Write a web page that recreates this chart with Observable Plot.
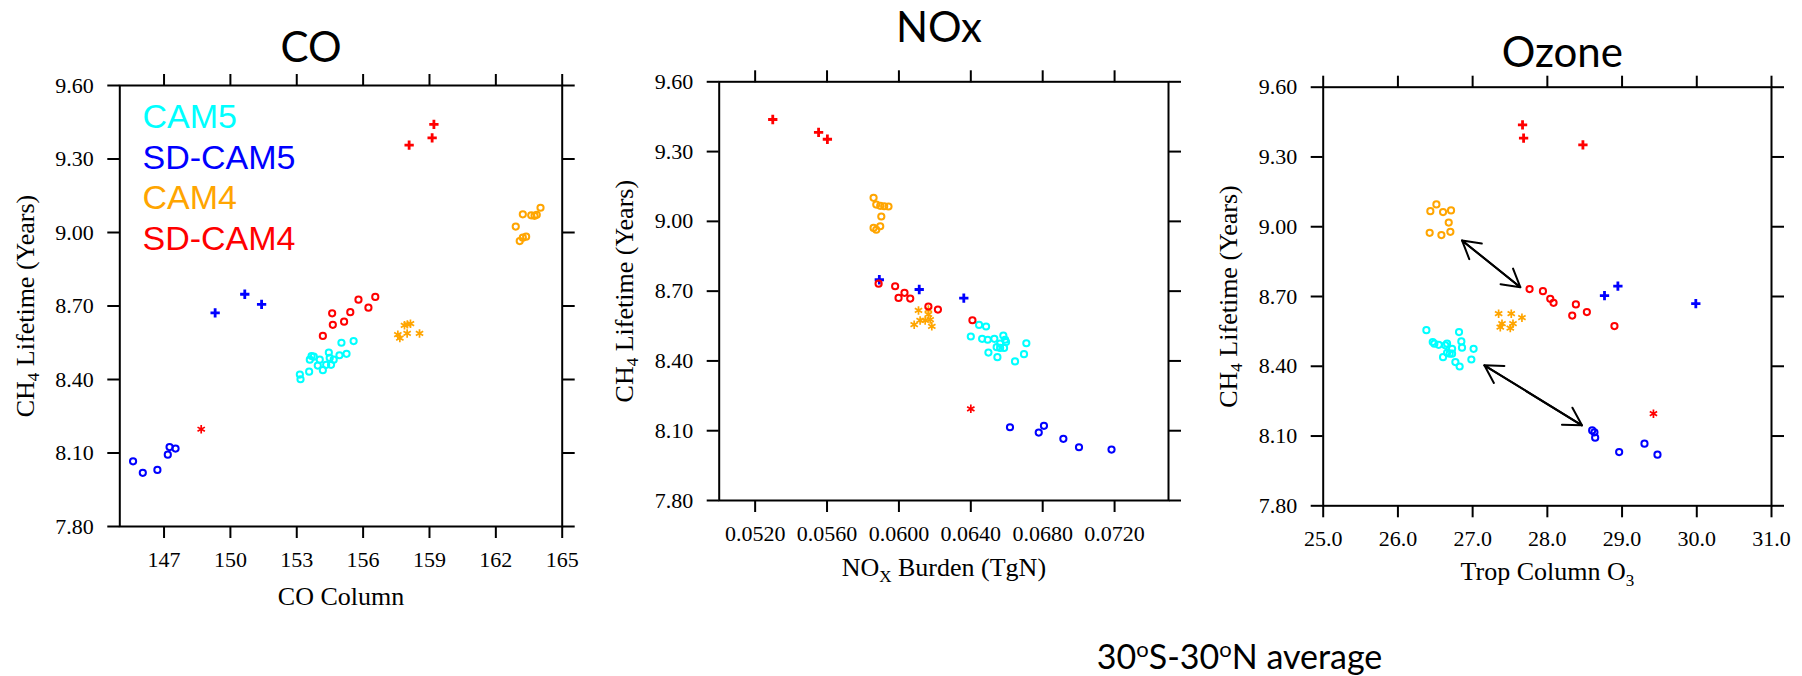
<!DOCTYPE html>
<html>
<head>
<meta charset="utf-8">
<script src="https://cdn.jsdelivr.net/npm/d3@7"></script>
<script src="https://cdn.jsdelivr.net/npm/@observablehq/plot@0.6"></script>
<style>
html, body { margin: 0; padding: 0; background: #fff; }
#root { position: relative; width: 1802px; height: 676px; overflow: hidden; background: #fff; }
.panel { position: absolute; top: 0; }
</style>
</head>
<body>
<div id="root"></div>
<script>
// ---------------- DATA ----------------
const yTicks = [7.80, 8.10, 8.40, 8.70, 9.00, 9.30, 9.60];
const coTicks = [147, 150, 153, 156, 159, 162, 165];
const noxTicks = [0.0520, 0.0560, 0.0600, 0.0640, 0.0680, 0.0720];
const o3Ticks = [25, 26, 27, 28, 29, 30, 31];
const titles = ["CO", "NOx", "Ozone"];
const xLabels = ["CO Column", "NOX Burden (TgN)", "Trop Column O3"];
const yLabel = "CH4 Lifetime (Years)";
const legendNames = ["CAM5", "SD-CAM5", "CAM4", "SD-CAM4"];
const caption = "30oS-30oN average";

// CO panel  [CO column, CH4 lifetime]
const co_CAM5_circle = [[153.14,8.420],[153.17,8.401],[153.56,8.432],[153.59,8.481],[153.67,8.496],[153.77,8.493],[153.95,8.457],[154.04,8.481],[154.18,8.438],[154.33,8.460],[154.45,8.510],[154.49,8.488],[154.55,8.460],[154.67,8.481],[154.93,8.499],[155.02,8.550],[155.25,8.505],[155.57,8.557]];
const co_SDCAM5_circle = [[145.60,8.066],[146.04,8.019],[146.70,8.031],[147.17,8.093],[147.25,8.124],[147.52,8.118]];
const co_SDCAM5_plus = [[149.31,8.672],[150.65,8.748],[151.41,8.707]];
const co_CAM4_circle = [[162.90,9.024],[163.22,9.074],[164.02,9.101],[163.60,9.070],[163.75,9.068],[163.85,9.072],[163.08,8.965],[163.22,8.979],[163.37,8.983]];
const co_CAM4_star = [[157.57,8.583],[157.66,8.569],[157.87,8.621],[158.14,8.628],[157.99,8.588],[158.55,8.588],[158.00,8.625]];
const co_SDCAM4_circle = [[154.18,8.578],[154.63,8.623],[154.60,8.670],[155.14,8.636],[155.42,8.675],[155.79,8.726],[156.24,8.693],[156.55,8.737]];
const co_SDCAM4_plus = [[159.20,9.441],[159.12,9.386],[158.08,9.357]];
const co_SDCAM4_star = [[148.68,8.197]];

// NOx panel  [NOx burden, CH4 lifetime]
const nox_CAM5_circle = [[0.06400,8.505],[0.06446,8.555],[0.06485,8.548],[0.06463,8.495],[0.06494,8.491],[0.06531,8.495],[0.06498,8.436],[0.06548,8.416],[0.06544,8.459],[0.06563,8.474],[0.06581,8.509],[0.06591,8.491],[0.06596,8.481],[0.06585,8.456],[0.06646,8.398],[0.06696,8.429],[0.06709,8.476],[0.06563,8.456]];
const nox_SDCAM5_circle = [[0.06618,8.115],[0.06778,8.092],[0.06807,8.121],[0.06915,8.065],[0.07002,8.029],[0.07183,8.019]];
const nox_SDCAM5_plus = [[0.05891,8.749],[0.06113,8.707],[0.06361,8.670]];
const nox_CAM4_circle = [[0.05859,9.101],[0.05874,9.072],[0.05896,9.067],[0.05918,9.065],[0.05942,9.064],[0.05902,9.021],[0.05896,8.979],[0.05859,8.972],[0.05874,8.964]];
const nox_CAM4_star = [[0.06109,8.617],[0.06164,8.621],[0.06085,8.556],[0.06118,8.574],[0.06146,8.574],[0.06174,8.578],[0.06183,8.549],[0.06164,8.600]];
const nox_SDCAM4_circle = [[0.05887,8.732],[0.05979,8.721],[0.05998,8.671],[0.06031,8.693],[0.06063,8.668],[0.06164,8.634],[0.06217,8.621],[0.06409,8.575]];
const nox_SDCAM4_plus = [[0.05298,9.438],[0.05553,9.383],[0.05602,9.353]];
const nox_SDCAM4_star = [[0.06400,8.194]];

// Ozone panel  [Trop column O3, CH4 lifetime]
const o3_CAM5_circle = [[26.381,8.555],[26.466,8.504],[26.488,8.497],[26.546,8.492],[26.635,8.490],[26.658,8.497],[26.604,8.439],[26.693,8.454],[26.725,8.475],[26.658,8.458],[26.769,8.418],[26.826,8.399],[26.818,8.547],[26.849,8.507],[26.858,8.480],[27.013,8.475],[26.983,8.429],[26.725,8.454]];
const o3_SDCAM5_circle = [[28.60,8.124],[28.63,8.116],[28.64,8.093],[28.961,8.031],[29.300,8.067],[29.474,8.020]];
const o3_SDCAM5_plus = [[28.765,8.704],[28.944,8.745],[29.987,8.669]];
const o3_CAM4_circle = [[26.434,9.067],[26.515,9.096],[26.604,9.063],[26.711,9.070],[26.680,9.018],[26.425,8.974],[26.582,8.964],[26.702,8.978]];
const o3_CAM4_star = [[27.348,8.626],[27.517,8.626],[27.660,8.609],[27.393,8.583],[27.370,8.568],[27.540,8.583],[27.504,8.564]];
const o3_SDCAM4_circle = [[27.762,8.732],[27.941,8.723],[28.039,8.690],[28.083,8.673],[28.382,8.666],[28.333,8.618],[28.529,8.633],[28.898,8.573]];
const o3_SDCAM4_plus = [[27.668,9.438],[27.682,9.381],[28.476,9.352]];
const o3_SDCAM4_star = [[29.420,8.196]];
// double-headed arrows [x1, y1, x2, y2]
const o3_arrows = [[26.858,8.941,27.638,8.740],[27.157,8.404,28.463,8.146]];

// ---------------- STYLE ----------------
const colorOf = {"CAM5": "#00ffff", "SD-CAM5": "#0000ff", "CAM4": "#ffa500", "SD-CAM4": "#ff0000"};
const SERIF = "'Liberation Serif', 'Times New Roman', serif";
const SANS = "'Liberation Sans', Arial, sans-serif";
const TITLE = "Lato, 'Open Sans', sans-serif";

function dotMarks(list) {
  return list.map(([data, name, shape]) => {
    const base = {x: d => d[0], y: d => d[1], stroke: colorOf[name]};
    if (shape === "circle") return Plot.dot(data, {...base, r: 3.1, strokeWidth: 2, fill: "none"});
    if (shape === "plus") return Plot.dot(data, {...base, symbol: "plus", r: 3.1, strokeWidth: 2.8});
    return Plot.dot(data, {...base, symbol: "asterisk", r: 4, strokeWidth: 1.7});
  });
}

function frameMarks(xTicks, xFmt) {
  return [
    Plot.axisX({anchor: "bottom", ticks: xTicks, tickSize: 12, tickPadding: 13, tickFormat: xFmt, fontSize: 22, fontFamily: SERIF, strokeWidth: 2, label: null}),
    Plot.axisX({anchor: "top", ticks: xTicks, tickSize: 12, tickFormat: () => "", strokeWidth: 2, label: null}),
    Plot.axisY({anchor: "left", ticks: yTicks, tickSize: 12, tickPadding: 14, tickFormat: d => d.toFixed(2), fontSize: 22, fontFamily: SERIF, strokeWidth: 2, label: null}),
    Plot.axisY({anchor: "right", ticks: yTicks, tickSize: 12, tickFormat: () => "", strokeWidth: 2, label: null}),
    Plot.frame({stroke: "black", strokeWidth: 2})
  ];
}

function labelMarks(title, tdx, tdy, xLabel, xdy) {
  return [
    Plot.text([title], {text: d => d, frameAnchor: "top", textAnchor: "middle", dx: tdx, dy: tdy, lineAnchor: "bottom", fontSize: 42, fontFamily: TITLE, fill: "black"}),
    Plot.text([xLabel], {text: d => d, frameAnchor: "bottom", textAnchor: "middle", dy: xdy, lineAnchor: "bottom", fontSize: 26, fontFamily: SERIF, fill: "black"}),
    Plot.text([yLabel], {text: d => d, frameAnchor: "left", textAnchor: "middle", dx: -86, rotate: -90, lineAnchor: "bottom", fontSize: 26, fontFamily: SERIF, fill: "black"})
  ];
}

function rich(svg, match, parts) {
  d3.select(svg).selectAll("text").filter(function () { return this.textContent === match; }).each(function () {
    const t = d3.select(this);
    t.text("");
    for (const p of parts) {
      const s = t.append("tspan").text(p.t);
      if (p.dy) s.attr("dy", p.dy);
      if (p.fs) s.attr("font-size", p.fs);
    }
  });
}

function fixText(svg) {
  rich(svg, yLabel, [{t: "CH"}, {t: "4", dy: 5, fs: 17}, {t: " Lifetime (Years)", dy: -5}]);
  rich(svg, xLabels[1], [{t: "NO"}, {t: "X", dy: 6, fs: 17}, {t: " Burden (TgN)", dy: -6}]);
  rich(svg, xLabels[2], [{t: "Trop Column O"}, {t: "3", dy: 6, fs: 17}]);
  rich(svg, caption, [{t: "30"}, {t: "o", dy: -12, fs: 22}, {t: "S-30", dy: 12}, {t: "o", dy: -12, fs: 22}, {t: "N average", dy: 12}]);
}

function place(svg, left) {
  fixText(svg);
  const div = document.createElement("div");
  div.className = "panel";
  div.style.left = left + "px";
  div.appendChild(svg);
  document.getElementById("root").appendChild(div);
}

const svgStyle = {background: "transparent", overflow: "visible", fontFamily: SERIF};

// ---------- Panel 1 : CO ----------
const legendDy = [42, 83, 123.5, 164.5];
const p1 = Plot.plot({
  width: 600, height: 676,
  marginLeft: 119.3, marginRight: 38.3, marginTop: 85, marginBottom: 150,
  style: svgStyle,
  x: {domain: [145, 165]},
  y: {domain: [7.8, 9.6]},
  marks: [
    ...frameMarks(coTicks, d => String(d)),
    ...labelMarks(titles[0], -30, -24, xLabels[0], 78),
    ...legendNames.map((name, i) => Plot.text([name], {text: d => d, frameAnchor: "top-left", textAnchor: "start", lineAnchor: "bottom", dx: 22.7, dy: legendDy[i], fontSize: 34, fontFamily: SANS, fill: colorOf[name]})),
    ...dotMarks([
      [co_CAM5_circle, "CAM5", "circle"],
      [co_SDCAM5_circle, "SD-CAM5", "circle"],
      [co_SDCAM5_plus, "SD-CAM5", "plus"],
      [co_CAM4_circle, "CAM4", "circle"],
      [co_CAM4_star, "CAM4", "star"],
      [co_SDCAM4_circle, "SD-CAM4", "circle"],
      [co_SDCAM4_plus, "SD-CAM4", "plus"],
      [co_SDCAM4_star, "SD-CAM4", "star"]
    ])
  ]
});
place(p1, 0);

// ---------- Panel 2 : NOx ----------
const p2 = Plot.plot({
  width: 840, height: 676,
  marginLeft: 118.7, marginRight: 272, marginTop: 81.3, marginBottom: 176,
  style: svgStyle,
  x: {domain: [0.050, 0.075]},
  y: {domain: [7.8, 9.6]},
  marks: [
    ...frameMarks(noxTicks, d => d.toFixed(4)),
    ...labelMarks(titles[1], -5, -39.5, xLabels[1], 75),
    Plot.text([caption], {text: d => d, frameAnchor: "bottom", textAnchor: "middle", dx: 295.7, dy: 168, lineAnchor: "bottom", fontSize: 34, fontFamily: TITLE, fill: "black"}),
    ...dotMarks([
      [nox_CAM5_circle, "CAM5", "circle"],
      [nox_SDCAM5_circle, "SD-CAM5", "circle"],
      [nox_SDCAM5_plus, "SD-CAM5", "plus"],
      [nox_CAM4_circle, "CAM4", "circle"],
      [nox_CAM4_star, "CAM4", "star"],
      [nox_SDCAM4_circle, "SD-CAM4", "circle"],
      [nox_SDCAM4_plus, "SD-CAM4", "plus"],
      [nox_SDCAM4_star, "SD-CAM4", "star"]
    ])
  ]
});
place(p2, 600);

// ---------- Panel 3 : Ozone ----------
const p3 = Plot.plot({
  width: 622, height: 676,
  marginLeft: 142.7, marginRight: 31, marginTop: 86.7, marginBottom: 170.7,
  style: svgStyle,
  x: {domain: [25, 31]},
  y: {domain: [7.8, 9.6]},
  marks: [
    ...frameMarks(o3Ticks, d => d.toFixed(1)),
    ...labelMarks(titles[2], 15, -20, xLabels[2], 74),
    Plot.arrow(o3_arrows, {x1: d => d[0], y1: d => d[1], x2: d => d[2], y2: d => d[3], stroke: "black", strokeWidth: 2, headLength: 15, headAngle: 60}),
    Plot.arrow(o3_arrows, {x1: d => d[2], y1: d => d[3], x2: d => d[0], y2: d => d[1], stroke: "black", strokeWidth: 2, headLength: 15, headAngle: 60}),
    ...dotMarks([
      [o3_CAM5_circle, "CAM5", "circle"],
      [o3_SDCAM5_circle, "SD-CAM5", "circle"],
      [o3_SDCAM5_plus, "SD-CAM5", "plus"],
      [o3_CAM4_circle, "CAM4", "circle"],
      [o3_CAM4_star, "CAM4", "star"],
      [o3_SDCAM4_circle, "SD-CAM4", "circle"],
      [o3_SDCAM4_plus, "SD-CAM4", "plus"],
      [o3_SDCAM4_star, "SD-CAM4", "star"]
    ])
  ]
});
place(p3, 1180);
</script>
</body>
</html>
